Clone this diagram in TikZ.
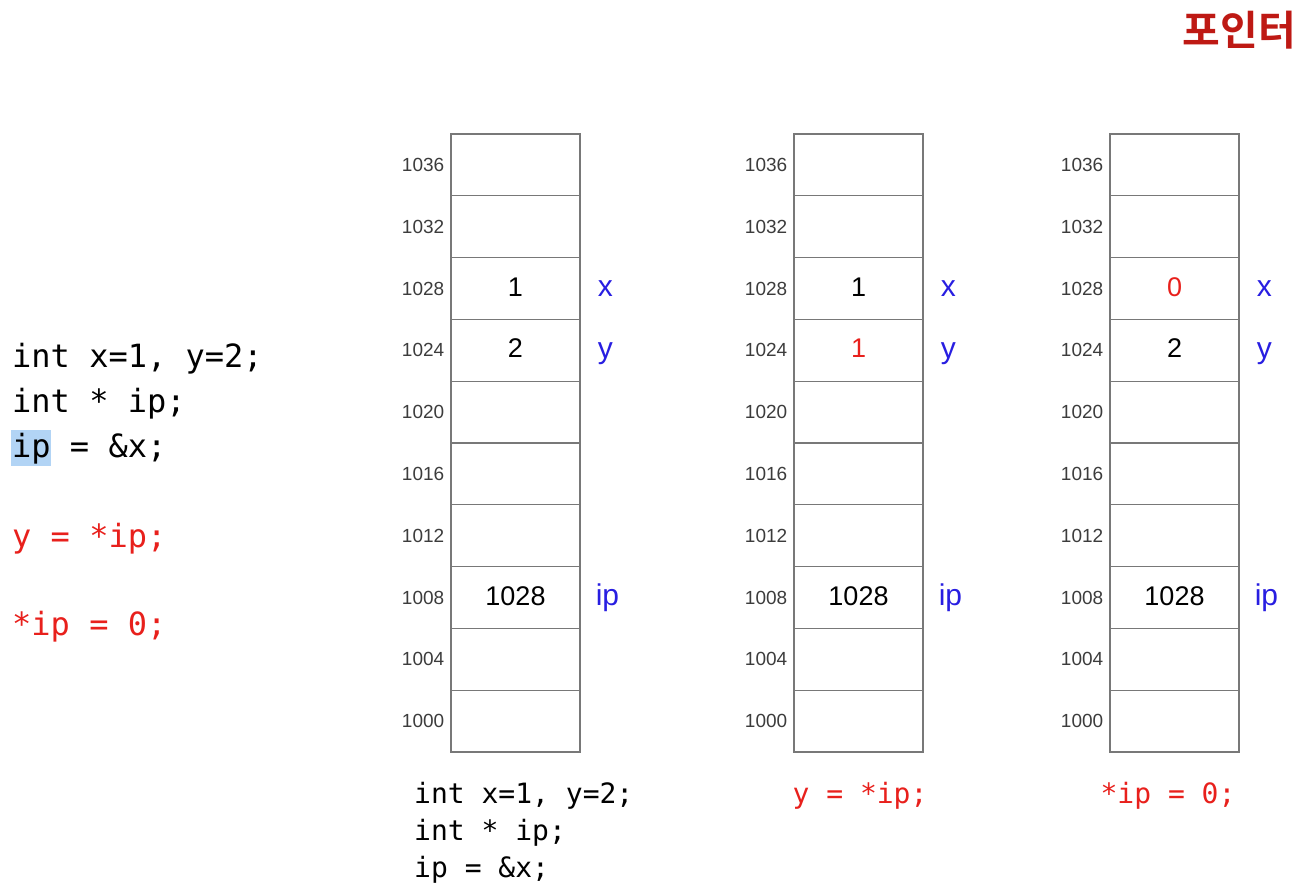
\documentclass[tikz,border=0pt]{standalone}
\usepackage{fontspec}
\setmainfont{Liberation Sans}
\newfontfamily\monof{DejaVu Sans Mono}
\newfontfamily\krf{Noto Sans CJK KR}[BoldFont={Noto Sans CJK KR Bold}]
\definecolor{codered}{RGB}{232,32,28}
\definecolor{lblblue}{RGB}{40,30,225}
\definecolor{titlered}{RGB}{190,25,20}
\definecolor{cellgray}{RGB}{120,120,120}
\definecolor{addrgray}{RGB}{60,60,60}
\definecolor{hlblue}{RGB}{178,212,245}
\tikzset{
  cellbox/.style={draw=cellgray, line width=1.1pt, minimum width=129pt, minimum height=61.8pt, inner sep=0pt},
  addr/.style={anchor=east, inner sep=0pt, font=\fontsize{19}{19}\selectfont, text=addrgray},
  val/.style={anchor=base, inner sep=0pt, font=\fontsize{27}{27}\selectfont},
  vname/.style={anchor=base west, inner sep=0pt, font=\fontsize{30}{30}\selectfont, text=lblblue},
  code/.style={anchor=base west, inner sep=0pt, font=\monof\fontsize{32}{32}\selectfont},
  bcode/.style={anchor=base west, inner sep=0pt, font=\monof\fontsize{28}{28}\selectfont},
}
\begin{document}
\begin{tikzpicture}[x=1pt,y=-1pt]
\useasboundingbox (0,0) rectangle (1309,896);
% title
\node[anchor=base east, inner sep=0pt, text=titlered, font=\krf\bfseries\fontsize{41}{41}\selectfont] (title) at (1296,46) {포인터};
% left code
\fill[hlblue] (11,430) rectangle (51,466);
\node[code] (l1) at (12,367) {int x=1, y=2;};
\node[code] (l2) at (12,412) {int * ip;};
\node[code] (l3) at (12,457) {ip = \&x;};
\node[code, text=codered] (l4) at (12,547) {y = *ip;};
\node[code, text=codered] (l5) at (12,635) {*ip = 0;};
% memory columns
\foreach \c/\cx in {1/515.5, 2/858.5, 3/1174.5}{
  \foreach \i in {0,...,9}{
    \pgfmathtruncatemacro{\ad}{1036-4*\i}
    \node[cellbox] (m\c r\i) at (\cx, {134+61.8*(\i+0.5)}) {};
    \node[addr] (a\c r\i) at ([xshift=-6pt]m\c r\i.west) {\ad};
  }
  \node[vname] (x\c) at ([xshift=17pt,yshift=-8pt]m\c r2.east) {x};
  \node[vname] (y\c) at ([xshift=17pt,yshift=-8pt]m\c r3.east) {y};
  \node[vname] (ip\c) at ([xshift=15pt,yshift=-8pt]m\c r7.east) {ip};
  \node[val] (v\c p) at ([yshift=-8pt]m\c r7.center) {1028};
}
\node[val] (v1x) at ([yshift=-8pt]m1r2.center) {1};
\node[val] (v1y) at ([yshift=-7pt]m1r3.center) {2};
\node[val] (v2x) at ([yshift=-8pt]m2r2.center) {1};
\node[val, text=codered] (v2y) at ([yshift=-7pt]m2r3.center) {1};
\node[val, text=codered] (v3x) at ([yshift=-8pt]m3r2.center) {0};
\node[val] (v3y) at ([yshift=-7pt]m3r3.center) {2};
% bottom code
\node[bcode] (b1) at (414,803) {int x=1, y=2;};
\node[bcode] (b2) at (414,840) {int * ip;};
\node[bcode] (b3) at (414,877) {ip = \&x;};
\node[bcode, text=codered, anchor=base] (b4) at (860,803) {y = *ip;};
\node[bcode, text=codered, anchor=base] (b5) at (1168,803) {*ip = 0;};
\end{tikzpicture}
\end{document}
